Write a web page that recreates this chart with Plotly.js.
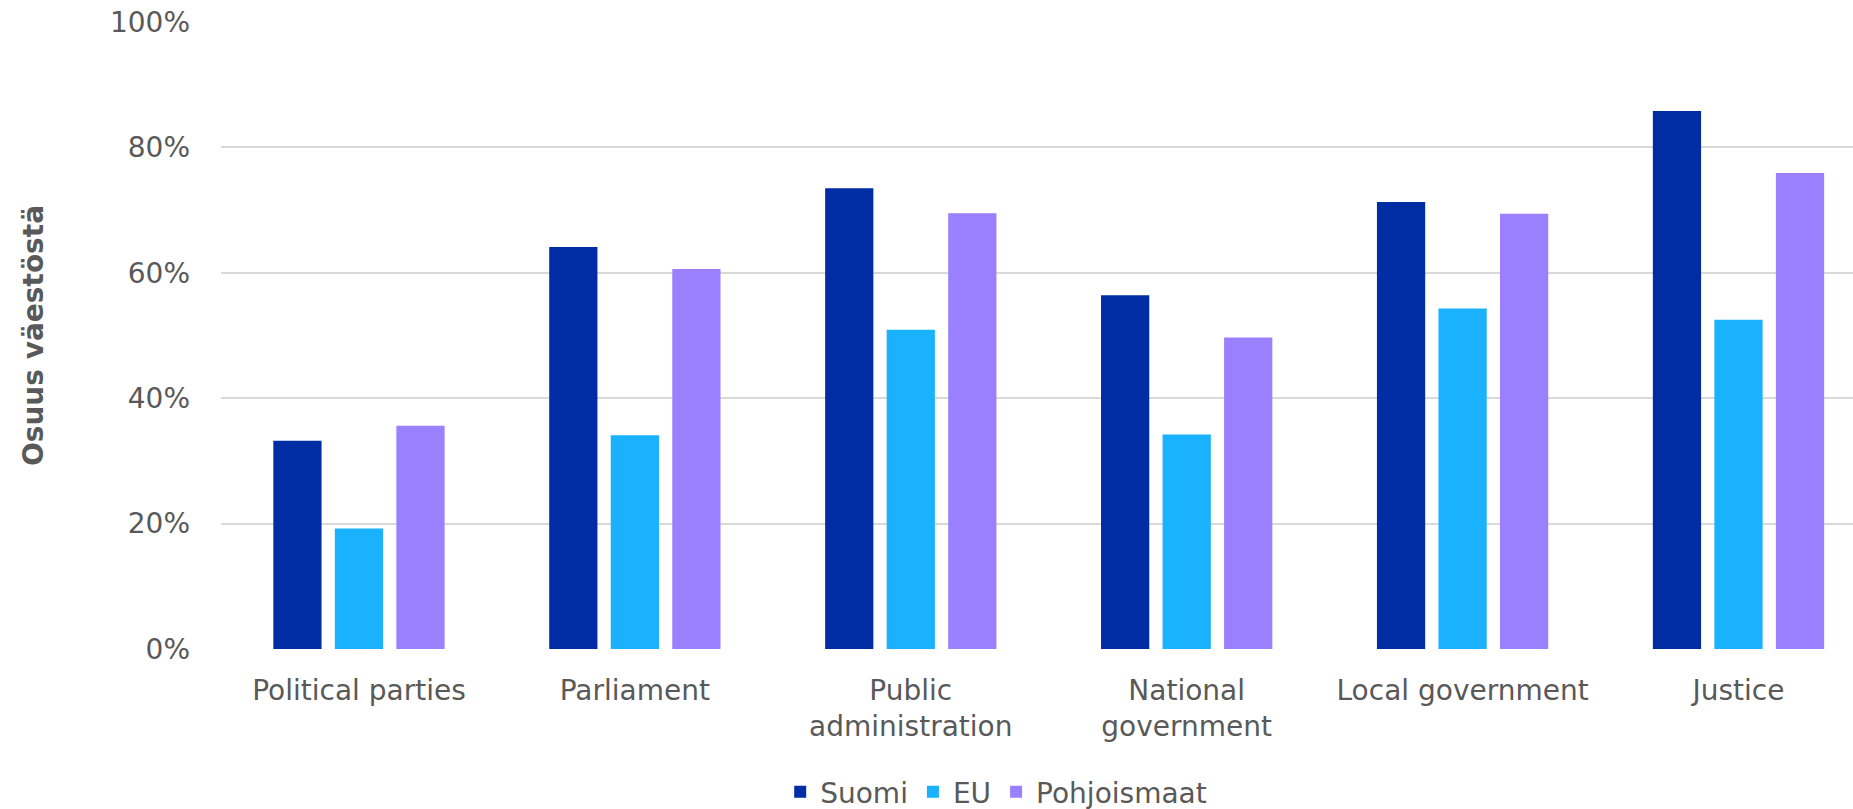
<!DOCTYPE html>
<html>
<head>
<meta charset="utf-8">
<script src="https://cdn.plot.ly/plotly-3.0.1.min.js"></script>
<style>html,body{margin:0;padding:0;background:#fff;}#chart{width:1853px;height:809px;}</style>
</head>
<body>
<div id="chart"></div>
<script>
const categories = ["Political parties", "Parliament", "Public<br>administration", "National<br>government", "Local government", "Justice"];
const suomi = [33.2, 64.1, 73.5, 56.4, 71.3, 85.8];
const eu = [19.2, 34.1, 50.9, 34.2, 54.3, 52.5];
const pohjoismaat = [35.6, 60.6, 69.5, 49.7, 69.4, 75.9];
const seriesNames = ["Suomi", "EU", "Pohjoismaat"];
const yTickVals = [0, 20, 40, 60, 80, 100];
const yTickText = ["0%", "20%", "40%", "60%", "80%", "100%"];
const yTitle = "Osuus väestöstä";

const colors = ["#002DA3", "#1AB2FF", "#9A7FFF"];
const font = "DejaVu Sans, Verdana, sans-serif";
const grey = "#595959";

const data = [suomi, eu, pohjoismaat].map((vals, i) => ({
  type: "bar",
  x: categories,
  y: vals,
  name: seriesNames[i],
  marker: {color: colors[i]},
  hoverinfo: "skip"
}));

const layout = {
  width: 1853, height: 809,
  margin: {l: 221, r: 0, t: 22, b: 160, pad: 0},
  paper_bgcolor: "#fff", plot_bgcolor: "#fff",
  barmode: "group",
  bargap: 0.331,
  bargroupgap: 0.216,
  font: {family: font, size: 28, color: grey},
  xaxis: {
    type: "category",
    range: [-0.5, 5.415],
    showgrid: false,
    showline: false,
    zeroline: false,
    ticks: "",
    tickfont: {family: font, size: 28, color: grey},
    ticklabelstandoff: 22,
    automargin: false,
    fixedrange: true
  },
  yaxis: {
    range: [0, 100],
    tickvals: yTickVals,
    ticktext: yTickText,
    showgrid: true,
    gridcolor: "#D9D9D9",
    gridwidth: 2,
    zeroline: false,
    showline: false,
    ticks: "",
    tickfont: {family: font, size: 28, color: grey},
    ticklabelstandoff: 30,
    automargin: false,
    title: {text: yTitle, font: {family: "DejaVu Sans, sans-serif", size: 28, color: grey, weight: "bold"}, standoff: 58},
    fixedrange: true
  },
  showlegend: true,
  legend: {
    orientation: "h",
    xref: "paper", x: 0.475, xanchor: "center",
    yref: "container", y: 0.021, yanchor: "middle",
    font: {family: font, size: 28, color: grey},
    itemclick: false, itemdoubleclick: false,
    traceorder: "normal"
  }
};

Plotly.newPlot("chart", data, layout, {displayModeBar: false, staticPlot: true});
</script>
</body>
</html>
